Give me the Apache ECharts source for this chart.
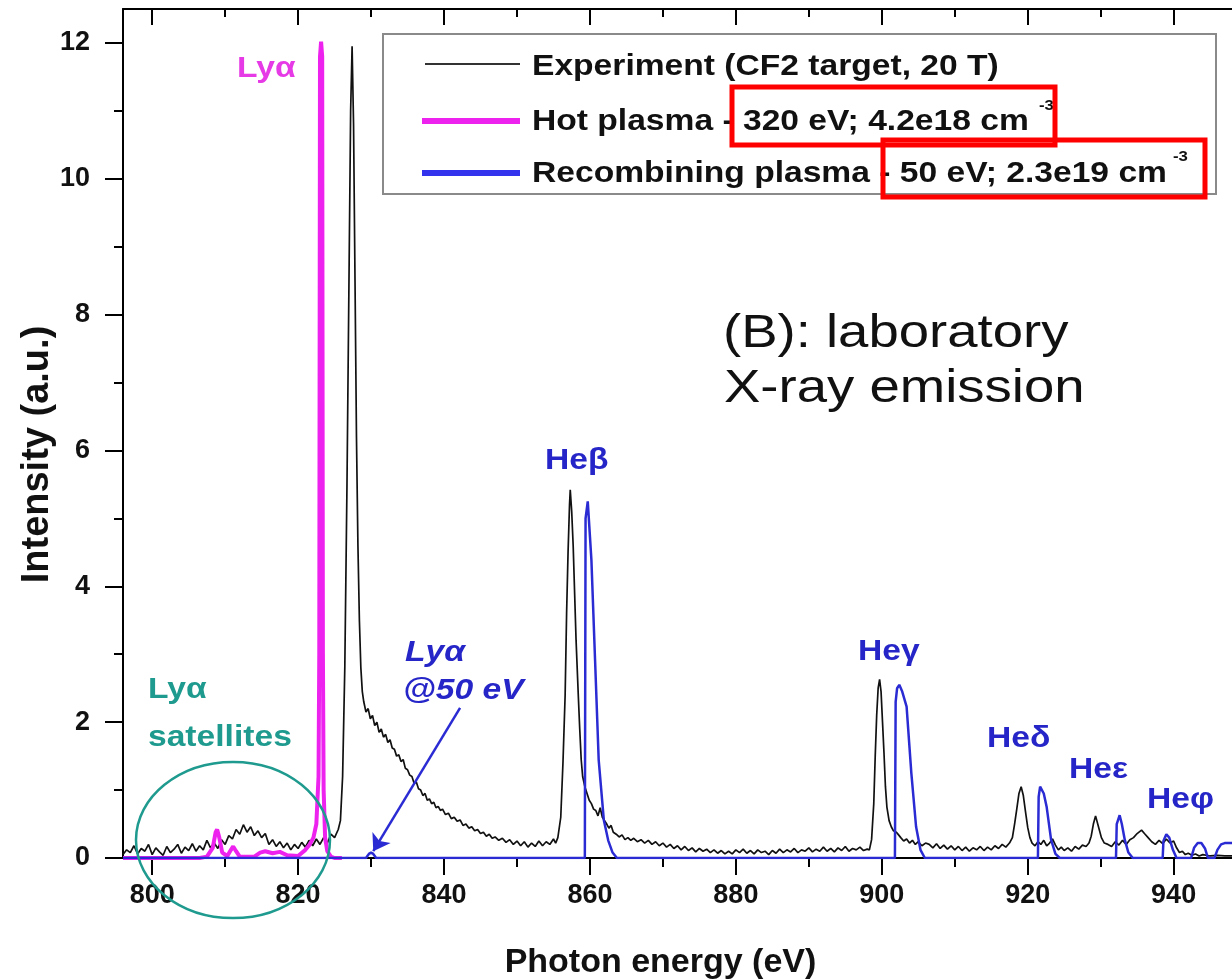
<!DOCTYPE html>
<html>
<head>
<meta charset="utf-8">
<script src="https://cdn.jsdelivr.net/npm/echarts@6/dist/echarts.min.js"></script>
<style>
  html, body { margin: 0; padding: 0; background: #fff; }
  #chart { width: 1232px; height: 980px; }
</style>
</head>
<body>
<div id="chart"></div>
<script>
// Axis ticks
const xMajorTicks = [800, 820, 840, 860, 880, 900, 920, 940];
const xMinorTicks = [810, 830, 850, 870, 890, 910, 930];
const yMajorTicks = [0, 2, 4, 6, 8, 10, 12];
const yMinorTicks = [1, 3, 5, 7, 9, 11];

// Measured spectrum: [photon energy (eV), intensity (a.u.)]
const experiment = [
  [796.0,0.05],[796.5,0.12],[797.0,0.08],[797.5,0.18],[798.0,0.06],[798.5,0.14],[799.0,0.10],[799.5,0.20],
  [800.0,0.05],[800.5,0.15],[801.0,0.09],[801.5,0.04],[802.0,0.17],[802.5,0.08],[803.0,0.13],[803.5,0.20],
  [804.0,0.07],[804.5,0.16],[805.0,0.11],[805.5,0.21],[806.0,0.10],[806.5,0.18],[807.0,0.12],[807.5,0.26],
  [808.0,0.15],[808.5,0.22],[809.0,0.14],[809.5,0.27],[810.0,0.20],[810.5,0.33],[811.0,0.28],[811.5,0.42],
  [812.0,0.35],[812.5,0.49],[813.0,0.38],[813.5,0.46],[814.0,0.33],[814.5,0.40],[815.0,0.30],[815.5,0.36],
  [816.0,0.20],[816.5,0.27],[817.0,0.17],[817.5,0.24],[818.0,0.15],[818.5,0.22],[819.0,0.12],[819.5,0.20],
  [820.0,0.14],[820.5,0.23],[821.0,0.16],[821.5,0.26],[822.0,0.18],[822.5,0.28],[823.0,0.20],[823.5,0.30],
  [824.0,0.22],[824.5,0.35],[825.0,0.30],[825.5,0.42],[825.8,0.55],[826.1,1.20],[826.4,2.80],[826.7,5.50],
  [827.0,8.80],[827.2,11.0],[827.4,11.95],[827.6,10.8],[827.8,8.50],[828.0,6.20],[828.2,4.60],[828.4,3.50],
  [828.6,2.80],[828.8,2.45],[829.0,2.30],[829.3,2.15],[829.6,2.20],[829.9,2.05],[830.2,2.10],[830.5,1.95],
  [830.8,2.00],[831.1,1.85],[831.4,1.90],[831.7,1.78],[832.0,1.82],[832.3,1.70],[832.6,1.74],[832.9,1.62],
  [833.2,1.60],[833.5,1.50],[833.8,1.52],[834.1,1.42],[834.4,1.45],[834.7,1.32],[835.0,1.30],[835.3,1.22],
  [835.6,1.20],[835.9,1.10],[836.2,1.12],[836.5,1.02],[836.8,1.00],[837.1,0.92],[837.4,0.95],[837.7,0.85],
  [838.0,0.87],[838.3,0.80],[838.6,0.82],[838.9,0.74],[839.2,0.76],[839.5,0.70],[839.8,0.72],[840.2,0.64],
  [840.6,0.66],[841.0,0.58],[841.4,0.60],[841.8,0.54],[842.2,0.56],[842.6,0.48],[843.0,0.50],[843.4,0.44],
  [843.8,0.46],[844.2,0.40],[844.6,0.42],[845.0,0.36],[845.4,0.38],[845.8,0.32],[846.2,0.35],[846.6,0.29],
  [847.0,0.31],[847.5,0.26],[848.0,0.29],[848.5,0.23],[849.0,0.27],[849.5,0.20],[850.0,0.25],[850.5,0.18],
  [851.0,0.24],[851.5,0.16],[852.0,0.22],[852.5,0.17],[853.0,0.25],[853.5,0.18],[854.0,0.24],[854.5,0.20],
  [855.0,0.28],[855.3,0.22],[855.6,0.30],[856.0,0.60],[856.3,1.40],[856.6,2.40],[856.8,3.60],[857.0,4.50],
  [857.2,5.20],[857.3,5.42],[857.5,5.10],[857.7,4.60],[857.9,3.90],[858.1,3.20],[858.4,2.40],[858.6,1.90],
  [858.8,1.45],[859.0,1.20],[859.3,1.05],[859.6,0.95],[859.9,0.85],[860.2,0.80],[860.5,0.72],[860.8,0.70],
  [861.1,0.62],[861.4,0.74],[861.7,0.60],[862.0,0.55],[862.3,0.50],[862.6,0.44],[862.9,0.48],[863.2,0.38],
  [863.6,0.35],[864.0,0.31],[864.4,0.34],[864.8,0.27],[865.2,0.30],[865.6,0.26],[866.0,0.29],[866.5,0.24],
  [867.0,0.27],[867.5,0.22],[868.0,0.26],[868.5,0.20],[869.0,0.24],[869.5,0.18],[870.0,0.22],[870.5,0.16],
  [871.0,0.20],[871.5,0.14],[872.0,0.18],[872.5,0.12],[873.0,0.17],[873.5,0.11],[874.0,0.15],[874.5,0.09],
  [875.0,0.14],[875.5,0.10],[876.0,0.13],[876.5,0.08],[877.0,0.12],[877.5,0.07],[878.0,0.11],[878.5,0.06],
  [879.0,0.10],[879.5,0.06],[880.0,0.12],[880.5,0.08],[881.0,0.13],[881.5,0.07],[882.0,0.11],[882.5,0.06],
  [883.0,0.12],[883.5,0.08],[884.0,0.10],[884.5,0.05],[885.0,0.11],[885.5,0.07],[886.0,0.13],[886.5,0.08],
  [887.0,0.12],[887.5,0.09],[888.0,0.14],[888.5,0.08],[889.0,0.12],[889.5,0.10],[890.0,0.15],[890.5,0.09],
  [891.0,0.13],[891.5,0.10],[892.0,0.16],[892.5,0.10],[893.0,0.14],[893.5,0.09],[894.0,0.15],[894.5,0.11],
  [895.0,0.17],[895.5,0.10],[896.0,0.14],[896.5,0.12],[897.0,0.16],[897.5,0.11],[898.0,0.13],[898.3,0.12],
  [898.6,0.27],[898.9,0.80],[899.1,1.50],[899.3,2.10],[899.5,2.50],[899.7,2.63],[899.9,2.45],[900.1,2.00],
  [900.3,1.55],[900.5,1.05],[900.7,0.75],[901.0,0.55],[901.3,0.46],[901.6,0.40],[902.0,0.38],[902.3,0.34],
  [902.6,0.30],[903.0,0.25],[903.4,0.28],[903.8,0.22],[904.2,0.26],[904.6,0.20],[905.0,0.24],[905.5,0.18],
  [906.0,0.22],[906.5,0.20],[907.0,0.15],[907.5,0.21],[908.0,0.14],[908.5,0.19],[909.0,0.13],[909.5,0.18],
  [910.0,0.12],[910.5,0.17],[911.0,0.11],[911.5,0.16],[912.0,0.10],[912.5,0.15],[913.0,0.12],[913.5,0.17],
  [914.0,0.11],[914.5,0.16],[915.0,0.12],[915.5,0.18],[916.0,0.14],[916.5,0.20],[917.0,0.16],[917.5,0.22],
  [917.9,0.30],[918.2,0.50],[918.5,0.72],[918.8,0.95],[919.1,1.05],[919.4,0.92],[919.7,0.68],[920.0,0.45],
  [920.3,0.30],[920.6,0.22],[921.0,0.18],[921.4,0.24],[921.8,0.20],[922.2,0.26],[922.6,0.18],[923.0,0.22],
  [923.4,0.28],[923.8,0.19],[924.2,0.12],[924.6,0.16],[925.0,0.11],[925.5,0.15],[926.0,0.10],[926.5,0.17],
  [927.0,0.13],[927.5,0.19],[928.0,0.17],[928.4,0.22],[928.7,0.32],[929.0,0.50],[929.3,0.62],[929.5,0.60],
  [929.8,0.42],[930.1,0.30],[930.5,0.22],[931.0,0.20],[931.5,0.17],[932.0,0.24],[932.5,0.19],[933.0,0.26],
  [933.5,0.20],[934.0,0.27],[934.5,0.30],[935.0,0.36],[935.6,0.41],[936.0,0.36],[936.5,0.30],[937.0,0.24],
  [937.5,0.20],[938.0,0.26],[938.5,0.21],[939.0,0.28],[939.5,0.22],[940.0,0.25],[940.4,0.15],[940.8,0.08],
  [941.2,0.10],[941.6,0.05],[942.0,0.07],[942.5,0.04],[943.0,0.06],[943.5,0.03],[944.0,0.05],[945.0,0.03],
  [946.0,0.04],[947.0,0.03],[948.0,0.03]
];

// Hot plasma model (320 eV)
const hotPlasma = [
  [796.0,0],[806.5,0],[807.5,0.02],[808.3,0.15],[808.7,0.38],[808.9,0.42],[809.2,0.30],[809.6,0.08],
  [810.3,0.03],[810.8,0.12],[811.1,0.17],[811.5,0.10],[812.0,0.02],[814.0,0.02],[814.8,0.08],[815.5,0.10],
  [816.5,0.07],[817.5,0.09],[818.5,0.04],[820.0,0.03],[821.0,0.12],[821.6,0.20],[822.1,0.30],[822.5,0.50],
  [822.8,1.20],[822.9,3.00],[823.0,11.8],[823.15,12.02],[823.3,11.8],[823.4,3.00],[823.5,1.00],[823.7,0.30],
  [824.0,0.10],[824.5,0.02],[825.0,0],[826.0,0]
];

// Recombining plasma model (50 eV)
const recombining = [
  [796.0,0],[829.3,0],[829.7,0.06],[830.0,0.08],[830.3,0.06],[830.7,0],
  [859.3,0],[859.4,5.00],[859.7,5.25],[860.2,4.39],[860.7,2.92],[861.2,1.44],[861.9,0.56],[862.5,0.26],[863.1,0.08],[863.7,0],
  [901.8,0],[901.9,2.30],[902.1,2.50],[902.4,2.55],[902.8,2.45],[903.4,2.23],[904.05,1.25],[904.7,0.46],[905.3,0.12],[905.9,0],
  [921.4,0],[921.5,0.90],[921.7,1.05],[921.9,1.07],[922.2,0.95],[922.6,0.75],[923.2,0.27],[923.8,0.06],[924.4,0],
  [932.1,0],[932.2,0.50],[932.6,0.63],[932.9,0.50],[933.3,0.27],[933.8,0.08],[934.4,0],
  [938.5,0],[938.6,0.25],[939.0,0.35],[939.4,0.30],[939.9,0.12],[940.4,0],
  [942.4,0],[942.8,0.15],[943.3,0.22],[943.8,0.22],[944.3,0.14],[944.7,0],
  [945.6,0],[946.0,0.12],[946.5,0.20],[947.0,0.22],[948.0,0.22]
];

const legendLabels = ['Experiment (CF2 target, 20 T)', 'Hot plasma - 320 eV; 4.2e18 cm', 'Recombining plasma - 50 eV; 2.3e19 cm'];

const X_MIN = 796, X_MAX = 948, Y_MIN = 0, Y_MAX = 12.5;
const FONT = '"Liberation Sans", Arial, sans-serif';
const BLACK = '#111';
const MAGENTA = '#ee22ee';
const BLUE = '#2b2bd4';
const LABEL_BLUE = '#2626c8';
const TEAL = '#1f9a8e';
const SX = 1.12;

const tickLine = { color: '#000', width: 2 };

function xAxisDef(position, ticks, len, inside, showLine, showLabels) {
  return {
    type: 'value', min: X_MIN, max: X_MAX, position: position,
    axisLine: { show: showLine, onZero: false, lineStyle: tickLine },
    axisTick: { show: true, customValues: ticks, length: len, inside: inside, lineStyle: tickLine },
    axisLabel: showLabels ? {
      customValues: ticks, margin: 24, color: BLACK, fontFamily: FONT, fontWeight: 'bold', fontSize: 27
    } : { show: false },
    splitLine: { show: false }
  };
}

function textEl(text, x, y, size, color, opts) {
  opts = opts || {};
  return {
    type: 'text', x: x, y: y, scaleX: opts.scaleX || SX, z: 100,
    style: {
      text: text, x: 0, y: 0, fill: color, fontFamily: FONT,
      fontSize: size, fontWeight: opts.weight || 'bold', fontStyle: opts.italic ? 'italic' : 'normal',
      verticalAlign: 'middle', align: 'left'
    }
  };
}

const chart = echarts.init(document.getElementById('chart'), null, { renderer: 'canvas' });

const xMain = xAxisDef('bottom', xMajorTicks, 17, false, true, true);
xMain.name = 'Photon energy (eV)';
xMain.nameLocation = 'middle';
xMain.nameGap = 88;
xMain.nameMoveOverlap = false;
xMain.nameTextStyle = { fontFamily: FONT, fontWeight: 'bold', fontSize: 34, color: BLACK, padding: [0, 34, 0, 0] };

const option = {
  animation: false,
  backgroundColor: '#fff',
  grid: { left: 123, right: 0, top: 9, bottom: 122, containLabel: false, outerBoundsMode: 'none' },
  xAxis: [
    xMain,
    xAxisDef('bottom', xMinorTicks, 9, false, false, false),
    xAxisDef('top', xMajorTicks, 16, true, true, false),
    xAxisDef('top', xMinorTicks, 8, true, false, false)
  ],
  yAxis: [
    {
      type: 'value', min: Y_MIN, max: Y_MAX, position: 'left',
      name: 'Intensity (a.u.)', nameLocation: 'middle', nameGap: 66, nameMoveOverlap: false,
      nameTextStyle: { fontFamily: FONT, fontWeight: 'bold', fontSize: 38, color: BLACK, padding: [0, 42, 0, 0] },
      axisLine: { show: true, lineStyle: tickLine },
      axisTick: { show: true, customValues: yMajorTicks, length: 18, lineStyle: tickLine },
      axisLabel: { customValues: yMajorTicks, margin: 33, color: BLACK, fontFamily: FONT, fontWeight: 'bold', fontSize: 27 },
      splitLine: { show: false }
    },
    {
      type: 'value', min: Y_MIN, max: Y_MAX, position: 'left',
      axisLine: { show: false },
      axisTick: { show: true, customValues: yMinorTicks, length: 9, lineStyle: tickLine },
      axisLabel: { show: false },
      splitLine: { show: false }
    }
  ],
  series: [
    {
      name: legendLabels[0], type: 'line', data: experiment, showSymbol: false, symbol: 'none',
      lineStyle: { color: BLACK, width: 1.7 }, z: 2
    },
    {
      name: legendLabels[1], type: 'line', data: hotPlasma, showSymbol: false, symbol: 'none',
      lineStyle: { color: MAGENTA, width: 4 }, z: 3
    },
    {
      name: legendLabels[2], type: 'line', data: recombining, showSymbol: false, symbol: 'none',
      lineStyle: { color: BLUE, width: 2.5 }, z: 4,
      markLine: {
        silent: true, symbol: ['none', 'arrow'], symbolSize: 16,
        lineStyle: { color: BLUE, width: 2.5, type: 'solid' },
        label: { show: false },
        data: [[{ coord: [842.2, 2.21] }, { coord: [830.3, 0.1] }]]
      }
    }
  ],
  graphic: [
    // legend frame
    { type: 'rect', shape: { x: 383, y: 34, width: 833, height: 160 }, style: { fill: '#fff', stroke: '#8a8a8a', lineWidth: 2 }, z: 90 },
    { type: 'line', shape: { x1: 425, y1: 64, x2: 520, y2: 64 }, style: { stroke: '#333', lineWidth: 2 }, z: 95 },
    { type: 'line', shape: { x1: 422, y1: 121, x2: 520, y2: 121 }, style: { stroke: MAGENTA, lineWidth: 6 }, z: 95 },
    { type: 'line', shape: { x1: 422, y1: 173, x2: 520, y2: 173 }, style: { stroke: '#3333ee', lineWidth: 6 }, z: 95 },
    textEl(legendLabels[0], 532, 67, 30, BLACK),
    textEl(legendLabels[1], 532, 122, 30, BLACK),
    textEl('-3', 1039, 106, 15, BLACK),
    textEl(legendLabels[2], 532, 174, 30, BLACK),
    textEl('-3', 1173, 157, 15, BLACK),
    // highlighted parameter boxes
    { type: 'rect', shape: { x: 732, y: 87, width: 323, height: 58 }, style: { fill: 'none', stroke: '#ff0000', lineWidth: 5 }, z: 110 },
    { type: 'rect', shape: { x: 883, y: 140, width: 322, height: 57 }, style: { fill: 'none', stroke: '#ff0000', lineWidth: 5 }, z: 110 },
    // panel caption
    textEl('(B): laboratory', 723, 334, 47, BLACK, { weight: 'normal', scaleX: 1.16 }),
    textEl('X-ray emission', 724, 389, 47, BLACK, { weight: 'normal', scaleX: 1.16 }),
    // line identifications
    textEl('Lyα', 237, 69, 30, '#e63ae6'),
    textEl('Heβ', 545, 461, 30, LABEL_BLUE),
    textEl('Heγ', 858, 652, 30, LABEL_BLUE),
    textEl('Heδ', 987, 739, 30, LABEL_BLUE),
    textEl('Heε', 1069, 770, 30, LABEL_BLUE),
    textEl('Heφ', 1147, 800, 30, LABEL_BLUE),
    textEl('Lyα', 405, 653, 30, LABEL_BLUE, { italic: true }),
    textEl('@50 eV', 403, 691, 30, LABEL_BLUE, { italic: true }),
    textEl('Lyα', 148, 690, 30, TEAL),
    textEl('satellites', 148, 738, 30, TEAL),
    { type: 'ellipse', shape: { cx: 233, cy: 840, rx: 97, ry: 78 }, style: { fill: 'none', stroke: TEAL, lineWidth: 2.5 }, z: 100 }
  ]
};

chart.setOption(option);
</script>
</body>
</html>
